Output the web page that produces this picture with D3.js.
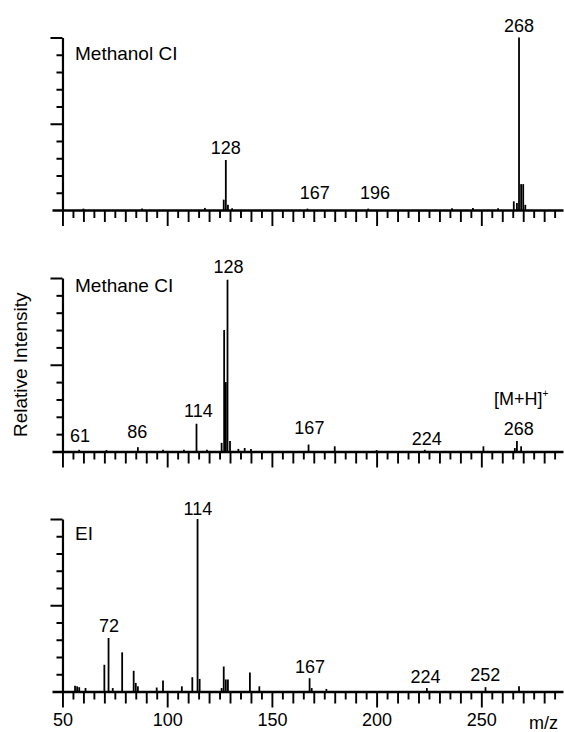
<!DOCTYPE html>
<html>
<head>
<meta charset="utf-8">
<script src="https://cdn.jsdelivr.net/npm/d3@7"></script>
<style>
  body { margin: 0; background: #fff; }
  svg { font-family: "Liberation Sans", Arial, sans-serif; }
</style>
</head>
<body>
<div id="chart"></div>
<script>
// spectra: [m/z, relative intensity %]
const methanolPeaks = [
  [60, 0.8], [88, 0.8], [118, 1.2], [127, 6], [128, 29], [129, 3], [131, 1],
  [167, 0.8], [196, 0.8], [236, 1], [246, 1.2], [258, 1],
  [265.5, 5], [267, 4], [268, 100], [269, 15], [270, 15], [271, 3],
];
const methanePeaks = [
  [58, 1], [71, 0.8], [86, 2.5], [98, 1], [108, 1], [114, 16], [119, 1],
  [126, 5], [127.2, 70], [128, 40], [128.8, 99], [130, 6], [134, 1.5], [137, 2], [140, 1.5],
  [167.5, 4], [180, 3], [200, 0.8], [223, 1], [251, 3], [266, 2], [267, 6], [269, 3],
];
const eiPeaks = [
  [56, 3.3], [57, 3], [58, 2.5], [61, 2], [70, 15.5], [72, 31], [74, 2], [78.5, 22.7],
  [84, 12], [85, 5], [86, 3], [95, 2.3], [98, 6.4], [107, 3], [112, 8.3],
  [114.5, 100], [115.5, 7.3], [126, 2], [127, 14.5], [128, 7], [129, 7],
  [139.5, 11], [144, 3], [168, 7.7], [169, 2], [176, 1.5], [224, 2], [252, 2.5], [268, 3],
];

// annotations: [text, m/z, height %]
const methanolLabels = [["128", 128, 32.5], ["167", 170.5, 6.4], ["196", 199.2, 6.4], ["268", 268, 103.4]];
const methaneLabels = [["61", 58.4, 5.6], ["86", 85.7, 7.8], ["114", 114.9, 20], ["128", 129.3, 103],
  ["167", 167.9, 10], ["224", 223.9, 3.7], ["268", 267.9, 9.5]];
const eiLabels = [["72", 72.2, 34.7], ["114", 114.7, 102.3], ["167", 168.2, 10.7], ["224", 223.4, 4.9], ["252", 251.9, 6.1]];

const panelNames = ["Methanol CI", "Methane CI", "EI"];
const xTickLabels = [50, 100, 150, 200, 250];
const xMinor = d3.range(50, 290, 5);
const yTicks = d3.range(10, 101, 10);

const W = 564, H = 732;
const svg = d3.select("#chart").append("svg").attr("width", W).attr("height", H);

const x = d3.scaleLinear().domain([45, 289]).range([52, 563]);

const panels = [
  { name: panelNames[0], peaks: methanolPeaks, labels: methanolLabels, base: 210, top: 37.5, titleY: 60 },
  { name: panelNames[1], peaks: methanePeaks, labels: methaneLabels, base: 451.5, top: 278, titleY: 292 },
  { name: panelNames[2], peaks: eiPeaks, labels: eiLabels, base: 691.5, top: 519, titleY: 540 },
];

panels.forEach((p, i) => {
  const y = d3.scaleLinear().domain([0, 100]).range([p.base, p.top]);
  const g = svg.append("g");

  // peaks
  g.selectAll(".peak")
    .data(p.peaks)
    .enter()
    .append("line")
    .attr("x1", (d) => x(d[0]))
    .attr("x2", (d) => x(d[0]))
    .attr("y1", y(0))
    .attr("y2", (d) => y(d[1]))
    .attr("stroke", "#000")
    .attr("stroke-width", 1.8);

  // x axis
  const xAxis = g.append("g")
    .attr("transform", `translate(0,${p.base})`)
    .call(d3.axisBottom(x).tickValues(xMinor).tickSizeOuter(0)
      .tickFormat((d) => (i === 2 && xTickLabels.includes(d) ? d : "")));
  xAxis.select(".domain").attr("stroke", "#000").attr("stroke-width", 2.4);
  xAxis.selectAll(".tick line")
    .attr("stroke", "#000")
    .attr("stroke-width", 1.9)
    .attr("y2", (d) => (d % 50 === 0 ? 16 : d % 10 === 0 ? 12 : 8));
  xAxis.selectAll(".tick text")
    .attr("y", 22)
    .attr("dy", "0.71em")
    .attr("fill", "#000")
    .style("font-size", "18px");

  // y axis
  const yAxis = g.append("g")
    .attr("transform", `translate(${x(50)},0)`)
    .call(d3.axisLeft(y).tickValues(yTicks).tickSizeOuter(0).tickFormat(""));
  yAxis.select(".domain").attr("stroke", "#000").attr("stroke-width", 2.2);
  yAxis.selectAll(".tick line")
    .attr("stroke", "#000")
    .attr("stroke-width", 2)
    .attr("x2", (d) => (d % 50 === 0 ? -12 : -6));

  // title
  g.append("text")
    .attr("x", 75)
    .attr("y", p.titleY)
    .text(p.name)
    .style("font-size", "19px");

  // peak annotations
  g.selectAll(".lab")
    .data(p.labels)
    .enter()
    .append("text")
    .attr("x", (d) => x(d[1]))
    .attr("y", (d) => y(d[2]))
    .attr("text-anchor", "middle")
    .text((d) => d[0])
    .style("font-size", "18px");
});

// [M+H]+ annotation in methane panel
const yMid = d3.scaleLinear().domain([0, 100]).range([panels[1].base, panels[1].top]);
const mh = svg.append("text")
  .attr("x", x(269))
  .attr("y", yMid(26.8))
  .attr("text-anchor", "middle")
  .style("font-size", "18px");
mh.append("tspan").text("[M+H]");
mh.append("tspan").attr("dy", -8).style("font-size", "10px").text("+");

// axis titles
svg.append("text")
  .attr("x", 558)
  .attr("y", 729)
  .attr("text-anchor", "end")
  .text("m/z")
  .style("font-size", "18px");

svg.append("text")
  .attr("transform", `translate(27,${yMid(50)}) rotate(-90)`)
  .attr("text-anchor", "middle")
  .text("Relative Intensity")
  .style("font-size", "19px");
</script>
</body>
</html>
